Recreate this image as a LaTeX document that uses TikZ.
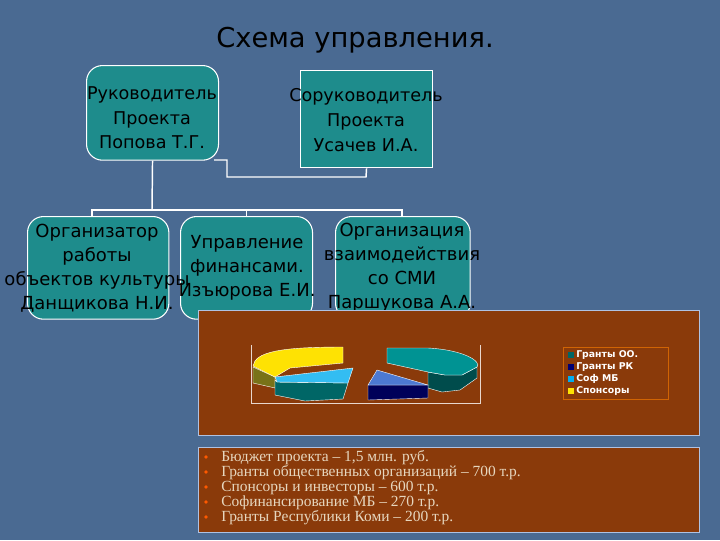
\documentclass[tikz,border=0pt]{standalone}
\usepackage{fontspec}
\setmainfont{Liberation Serif}
\setsansfont{DejaVu Sans}
\begin{document}
\begin{tikzpicture}[x=0.75pt,y=-0.75pt,
  box/.style={draw=white,line width=0.8pt,fill=boxteal,inner sep=0pt,anchor=north west},
  lbl/.style={text=black,font=\sffamily\fontsize{13.2}{18.5}\selectfont,align=center},
  conn/.style={draw=white,line width=1.1pt},
  panel/.style={fill=panelbrown,draw=panelblue!60,line width=0.8pt},
  leg/.style={text=white,font=\sffamily\bfseries\fontsize{7}{8}\selectfont,anchor=west,inner sep=0pt},
  item/.style={text=itemtan,font=\fontsize{11.6}{13}\selectfont,anchor=west,inner sep=0pt,text height=7.5pt,text depth=1.5pt}]
\definecolor{bg}{HTML}{4A6A92}
\definecolor{boxteal}{HTML}{1E8C8C}
\definecolor{panelbrown}{HTML}{8A3A0A}
\definecolor{panelblue}{HTML}{7A9AD0}
\definecolor{itemtan}{HTML}{E6D6BE}
\fill[bg] (0,0) rectangle (720,540);
\useasboundingbox (0,0) rectangle (720,540);
\node[text=black,font=\sffamily\fontsize{20.5}{24}\selectfont] (title) at (355,40) {Схема управления.};
% boxes
\node[box,rounded corners=12pt,minimum width=99pt,minimum height=71pt] (ruk) at (86,65) {};
\node[box,minimum width=99pt,minimum height=73pt] (soruk) at (300,70) {};
\node[box,rounded corners=12pt,minimum width=106pt,minimum height=77pt] (org) at (27,216) {};
\node[box,rounded corners=12pt,minimum width=99pt,minimum height=77pt] (fin) at (180,216) {};
\node[box,rounded corners=12pt,minimum width=101pt,minimum height=77pt] (smi) at (335,216) {};
% connectors
\coordinate (jn) at (152,210);
\draw[conn] (ruk.south) -- (jn);
\draw[conn] (org.north -| 92,0) |- (jn) -| (402,216);
\draw[conn] (jn) -| (fin.north);
\draw[conn] (214,160) -- (227,160) |- (366,177) -- (soruk.south);
% labels
\node[lbl] (ltruk) at (152,118) {Руководитель\\Проекта\\Попова Т.Г.};
\node[lbl] (ltsoruk) at (366,120) {Соруководитель\\Проекта\\Усачев И.А.};
\node[lbl,font=\sffamily\fontsize{13.5}{18}\selectfont] (ltorg) at (97,268) {Организатор\\работы\\объектов культуры\\Данщикова Н.И.};
\node[lbl,font=\sffamily\fontsize{13.5}{18}\selectfont] (ltfin) at (247,268) {Управление\\финансами.\\Изъюрова Е.И.};
\node[lbl,font=\sffamily\fontsize{13.5}{18}\selectfont] (ltsmi) at (402,268) {Организация\\взаимодействия\\со СМИ\\Паршукова А.А.};
% panels
\node[panel,anchor=north west,minimum width=376pt,minimum height=94pt,inner sep=0pt] (chart) at (198,310) {};
\node[panel,anchor=north west,minimum width=376pt,minimum height=64pt,inner sep=0pt] (list) at (198,447) {};
% pie chart
\draw[white!80!panelbrown,line width=0.5pt] (251,345) -- (251,403) -- (480,403) -- (480,345);
\fill[olive!80!black,draw=white,line width=0.3pt] (253,367) -- (253,383) -- (275,388) -- (275,377) -- cycle;
\fill[yellow!85!orange,draw=white,line width=0.3pt] (253,366) .. controls (255,352) and (280,347) .. (343,347) -- (343,363) -- (290,368) -- (275,377) -- cycle;
\fill[teal!80!black,draw=white,line width=0.3pt] (275,380) -- (275,395) -- (305,401) -- (343,399) -- (348,383) -- (277,382) -- cycle;
\fill[cyan!80!white,draw=white,line width=0.3pt] (275,377) -- (353,368) -- (348,383) -- (277,382) -- cycle;
\fill[teal!60!black,draw=white,line width=0.3pt] (428,372) -- (445,375) -- (462,375) -- (477,367) -- (477,378) -- (460,390) -- (442,392) -- (428,388) -- cycle;
\fill[teal!85!cyan,draw=white,line width=0.3pt] (387,348) -- (428,348) .. controls (465,350) and (482,362) .. (477,367) -- (462,375) -- (445,375) -- (428,372) -- (387,363) -- cycle;
\fill[blue!35!black,draw=white,line width=0.3pt] (368,385) -- (428,385) -- (428,398) -- (368,400) -- cycle;
\fill[blue!50!teal!70!white,draw=white,line width=0.3pt] (368,385) -- (377,370) -- (428,385) -- cycle;
% legend
\node[draw=orange!60!panelbrown,line width=0.5pt,anchor=north west,minimum width=79pt,minimum height=39pt,inner sep=0pt] (legbox) at (563,347) {};
\fill[teal!80!black] (568,352) rectangle (574,358);
\fill[blue!45!black] (568,364) rectangle (574,370);
\fill[cyan] (568,376) rectangle (574,382);
\fill[yellow!85!orange] (568,388) rectangle (574,394);
\node[leg] (l1) at (576,355) {Гранты ОО.};
\node[leg] (l2) at (576,367) {Гранты РК};
\node[leg] (l3) at (576,379) {Соф МБ};
\node[leg] (l4) at (576,391) {Спонсоры};
% list
\foreach \yy in {457,472,487,502,517} \fill[orange!70!red] (206,\yy) circle (1.8);
\node[item] (i1) at (221,457) {Бюджет проекта – 1,5 млн. руб.};
\node[item] (i2) at (221,472) {Гранты общественных организаций – 700 т.р.};
\node[item] (i3) at (221,487) {Спонсоры и инвесторы – 600 т.р.};
\node[item] (i4) at (221,502) {Софинансирование МБ – 270 т.р.};
\node[item] (i5) at (221,517) {Гранты Республики Коми – 200 т.р.};
\end{tikzpicture}
\end{document}
